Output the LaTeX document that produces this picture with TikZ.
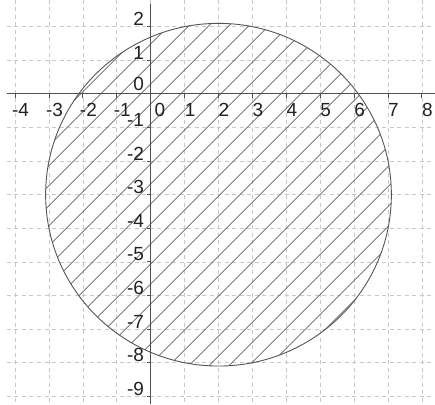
\documentclass[tikz,border=0pt]{standalone}
\usepackage{fontspec}
\setmainfont{Liberation Sans}
\definecolor{gridgray}{HTML}{C8C8C8}
\definecolor{axisgray}{HTML}{505050}
\definecolor{hatchgray}{HTML}{666666}
\definecolor{circgray}{HTML}{555555}
\definecolor{labcol}{HTML}{222222}
\newcommand\labfont{\fontsize{19pt}{19pt}\selectfont}
\begin{document}
\begin{tikzpicture}[x=33.9pt,y=33.6pt,
  gridline/.style={draw=gridgray, line width=0.8pt, dash pattern=on 4pt off 3.5pt},
  axisline/.style={draw=axisgray, line width=0.9pt},
  hatchline/.style={draw=hatchgray, line width=0.8pt},
  circline/.style={draw=circgray, line width=0.9pt},
  xlab/.style={anchor=north, inner sep=0pt, font=\labfont, text=labcol},
  ylab/.style={anchor=base east, inner sep=0pt, font=\labfont, text=labcol}]
\useasboundingbox (-150.7pt,-310.1pt) rectangle (284.3pt,93.9pt);
\fill[white] (-150.7pt,-310.1pt) rectangle (284.3pt,93.9pt);
% grid
\foreach \i in {-4,...,8} \draw[gridline] (\i,2.7946) -- (\i,-9.2292);
\foreach \j in {-9,...,2} \draw[gridline] (-4.2389,\j) -- (8.3864,\j);
% hatching
\begin{scope}
  \clip (2,-3) ellipse [x radius=172.86pt, y radius=171.33pt];
  \foreach \c in {-490,-470,...,250}
    \draw[hatchline] ({-160pt},{(\c-160)*1pt}) -- ({300pt},{(\c+300)*1pt});
\end{scope}
\draw[circline] (2,-3) ellipse [x radius=172.86pt, y radius=171.33pt];
% axes
\coordinate (xs) at (-143.7pt,0pt);
\coordinate (xe) at (284.3pt,0pt);
\coordinate (ys) at (0pt,89.9pt);
\coordinate (ye) at (0pt,-310.1pt);
\draw[axisline] (xs) -- (xe);
\draw[axisline] (ys) -- (ye);
\foreach \i in {-4,...,-1,1,2,...,8} \draw[axisline] (\i,0) -- ++(0pt,-4pt);
\foreach \j in {-9,...,-1,1,2} \draw[axisline] (0,\j) -- ++(-4pt,0pt);
% labels
\foreach \i in {-4,...,-1,1,2,...,8}
  \node[xlab] (xl\i) at ([xshift=5.5pt,yshift=-9pt]\i,0) {\i};
\foreach \j in {-9,...,-1,1,2}
  \node[ylab] (yl\j) at ([xshift=-6.5pt,yshift=1pt]0,\j) {\j};
\node[xlab] (xl0) at (9.3pt,-9.4pt) {0};
\node[ylab] (yl0) at (-6.5pt,3pt) {0};
\end{tikzpicture}
\end{document}
